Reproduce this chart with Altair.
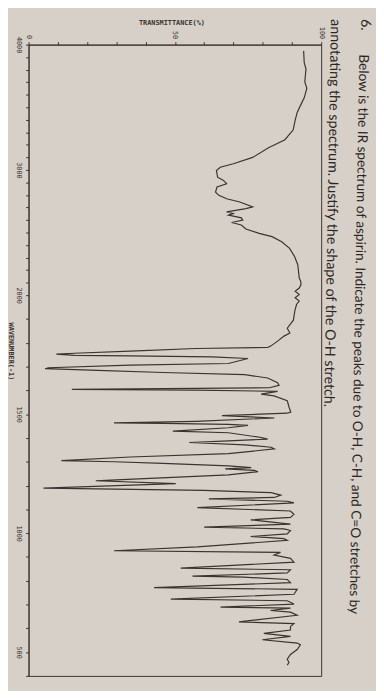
import altair as alt
import pandas as pd

OH_CH_REGION = [
    (3950, 94.0), (3856, 94.2), (3805, 94.8), (3702, 94.4), (3652, 95.1), (3575, 94.2),
    (3523, 93.1), (3459, 91.8), (3395, 91.1), (3318, 90.4), (3241, 87.6), (3203, 84.3),
    (3177, 82.0), (3100, 76.6), (3049, 70.0), (3021, 65.5), (2995, 64.2), (2942, 64.6),
    (2916, 66.6), (2889, 67.7), (2863, 64.4), (2823, 63.9), (2797, 65.0), (2770, 67.7),
    (2744, 72.2), (2705, 76.6), (2691, 74.3), (2665, 67.7), (2652, 69.9), (2639, 68.3),
    (2617, 72.7), (2599, 73.2), (2580, 69.4), (2560, 72.7), (2528, 74.3), (2493, 78.8),
    (2467, 83.2), (2427, 86.5), (2374, 89.2), (2309, 90.9), (2243, 92.0), (2137, 92.5),
    (2111, 93.0), (2085, 93.1), (2057, 92.5), (2031, 91.1), (2005, 92.5),
]
CARBONYL_REGION = [
    (1989, 91.1), (1975, 92.5), (1962, 91.6), (1935, 91.0), (1895, 90.5), (1861, 88.4),
    (1841, 89.3), (1828, 87.3), (1807, 85.1), (1787, 82.9), (1780, 81.7), (1776, 57.1),
    (1766, 37.0), (1756, 15.7), (1752, 9.5), (1747, 15.7), (1745, 34.7), (1741, 62.7),
    (1734, 75.0), (1713, 68.3), (1706, 34.7), (1695, 6.8), (1691, 5.7), (1684, 23.6),
    (1675, 45.9), (1666, 73.9), (1652, 81.7), (1632, 85.1), (1621, 85.6), (1611, 82.3),
    (1604, 14.8), (1601, 57.1), (1596, 85.1), (1584, 79.5), (1577, 83.9), (1557, 88.4),
    (1530, 89.0), (1509, 89.6),
]
FINGERPRINT_REGION = [
    (1504, 88.4), (1494, 66.1), (1484, 84.0), (1470, 57.1), (1463, 29.2), (1461, 45.9),
    (1457, 68.3), (1453, 75.0), (1443, 68.3), (1429, 49.3), (1422, 68.3), (1402, 79.5),
    (1395, 81.7), (1388, 68.3), (1381, 54.9), (1371, 73.9), (1361, 82.9), (1354, 84.0),
    (1334, 68.3), (1320, 34.7), (1305, 11.2), (1300, 29.2), (1293, 45.9), (1283, 68.3),
    (1275, 76.1), (1270, 67.2), (1264, 77.2), (1258, 78.4), (1245, 68.3), (1224, 30.0),
    (1220, 23.0), (1208, 50.3), (1189, 5.1), (1180, 60.0), (1170, 82.9), (1160, 86.2),
    (1150, 84.0), (1144, 61.6), (1134, 88.4), (1127, 90.7), (1107, 57.7), (1093, 89.5),
    (1079, 90.7), (1066, 89.5), (1056, 75.9), (1045, 83.9), (1038, 89.5), (1025, 60.0),
    (1018, 87.3), (1011, 89.5), (997, 88.4), (986, 75.9), (977, 87.3), (970, 88.4),
    (942, 57.7), (926, 29.2), (919, 86.1), (908, 83.9), (894, 89.5), (878, 90.7),
    (853, 52.0), (846, 89.5), (833, 88.4), (819, 56.0), (815, 73.6), (805, 88.4),
    (792, 89.5), (771, 42.9), (764, 91.8), (743, 90.7), (723, 48.6), (716, 88.4),
    (702, 90.7), (689, 65.6), (685, 89.5), (675, 82.7), (668, 89.5), (655, 91.8),
    (627, 71.9), (620, 90.7), (607, 89.5), (593, 89.5), (579, 80.4), (566, 89.5),
    (552, 79.9), (538, 91.8), (531, 92.9), (511, 91.8), (490, 89.5), (470, 88.4),
    (456, 89.0), (445, 88.4),
]

WN_LABELS = [4000, 3000, 2000, 1500, 1000, 500]
WN_TICKS = list(range(400, 4001, 100))
T_TICKS = list(range(0, 101, 10))

QUESTION_NUM = "6."
QUESTION_LINE1 = "Below is the IR spectrum of aspirin. Indicate the peaks due to O-H, C-H, and C=O stretches by"
QUESTION_LINE2 = "annotating the spectrum. Justify the shape of the O-H stretch."

INK = "#3a3330"
PAPER = "#d7d0c8"
MONO = "DejaVu Sans Mono"

rows = OH_CH_REGION + CARBONYL_REGION + FINGERPRINT_REGION
df = pd.DataFrame(rows, columns=["wn", "t"])
df["i"] = range(len(df))

W, H = 299, 645

spectrum = alt.Chart(df).mark_line(color=INK, strokeWidth=1.2, strokeJoin="miter").encode(
    x=alt.X(
        "t:Q",
        scale=alt.Scale(domain=[0, 100], nice=False, zero=False),
        axis=alt.Axis(
            orient="top", values=T_TICKS, grid=False,
            labelExpr="datum.value % 50 == 0 ? '' + datum.value : ''",
            labelAngle=90, labelAlign="right", labelBaseline="middle",
            labelFont=MONO, labelFontSize=7, labelColor=INK, labelPadding=3,
            tickSize=3, tickColor=INK, domainColor=INK,
            title="TRANSMITTANCE(%)", titleFont=MONO, titleFontSize=7,
            titleFontWeight="bold", titleColor=INK,
            titleX=146, titleY=-23, titleAlign="center", titleBaseline="middle", titleAngle=0,
        ),
    ),
    y=alt.Y(
        "wn:Q",
        scale=alt.Scale(domain=[400, 2000, 4000], range=[H, 256, 0], nice=False, zero=False),
        axis=alt.Axis(
            orient="left", values=WN_TICKS, grid=False,
            labelExpr="indexof([4000,3000,2000,1500,1000,500], datum.value) >= 0 ? '' + datum.value : ''",
            labelAngle=90, labelAlign="center", labelBaseline="top",
            labelFont=MONO, labelFontSize=7, labelColor=INK, labelPadding=3,
            labelOverlap=False,
            tickSize=3, tickColor=INK, domainColor=INK,
            title="WAVENUMBER(-1)", titleFont=MONO, titleFontSize=7,
            titleFontWeight="bold", titleColor=INK,
            titleX=-18, titleY=313, titleAngle=90, titleAlign="center", titleBaseline="middle",
        ),
    ),
    order=alt.Order("i:Q"),
)

def note(txt, px, py, size):
    return alt.Chart(pd.DataFrame({"s": [txt]})).mark_text(
        angle=91, align="left", baseline="middle", font="Lato",
        fontSize=size, color="#2b2623",
    ).encode(text="s:N", x=alt.value(px), y=alt.value(py))

chart = alt.layer(
    spectrum,
    note(QUESTION_NUM, 344, -26, 14.5),
    note(QUESTION_LINE1, 342, 10, 13.9),
    note(QUESTION_LINE2, 313, -26, 14.6),
).properties(
    width=W, height=H,
    autosize=alt.AutoSizeParams(type="none"),
    padding={"left": 21, "top": 30, "right": 56, "bottom": 8},
    background=PAPER,
).configure_view(stroke=INK, strokeWidth=1)

chart.save("out.html", embed_options={"renderer": "svg", "actions": False})
